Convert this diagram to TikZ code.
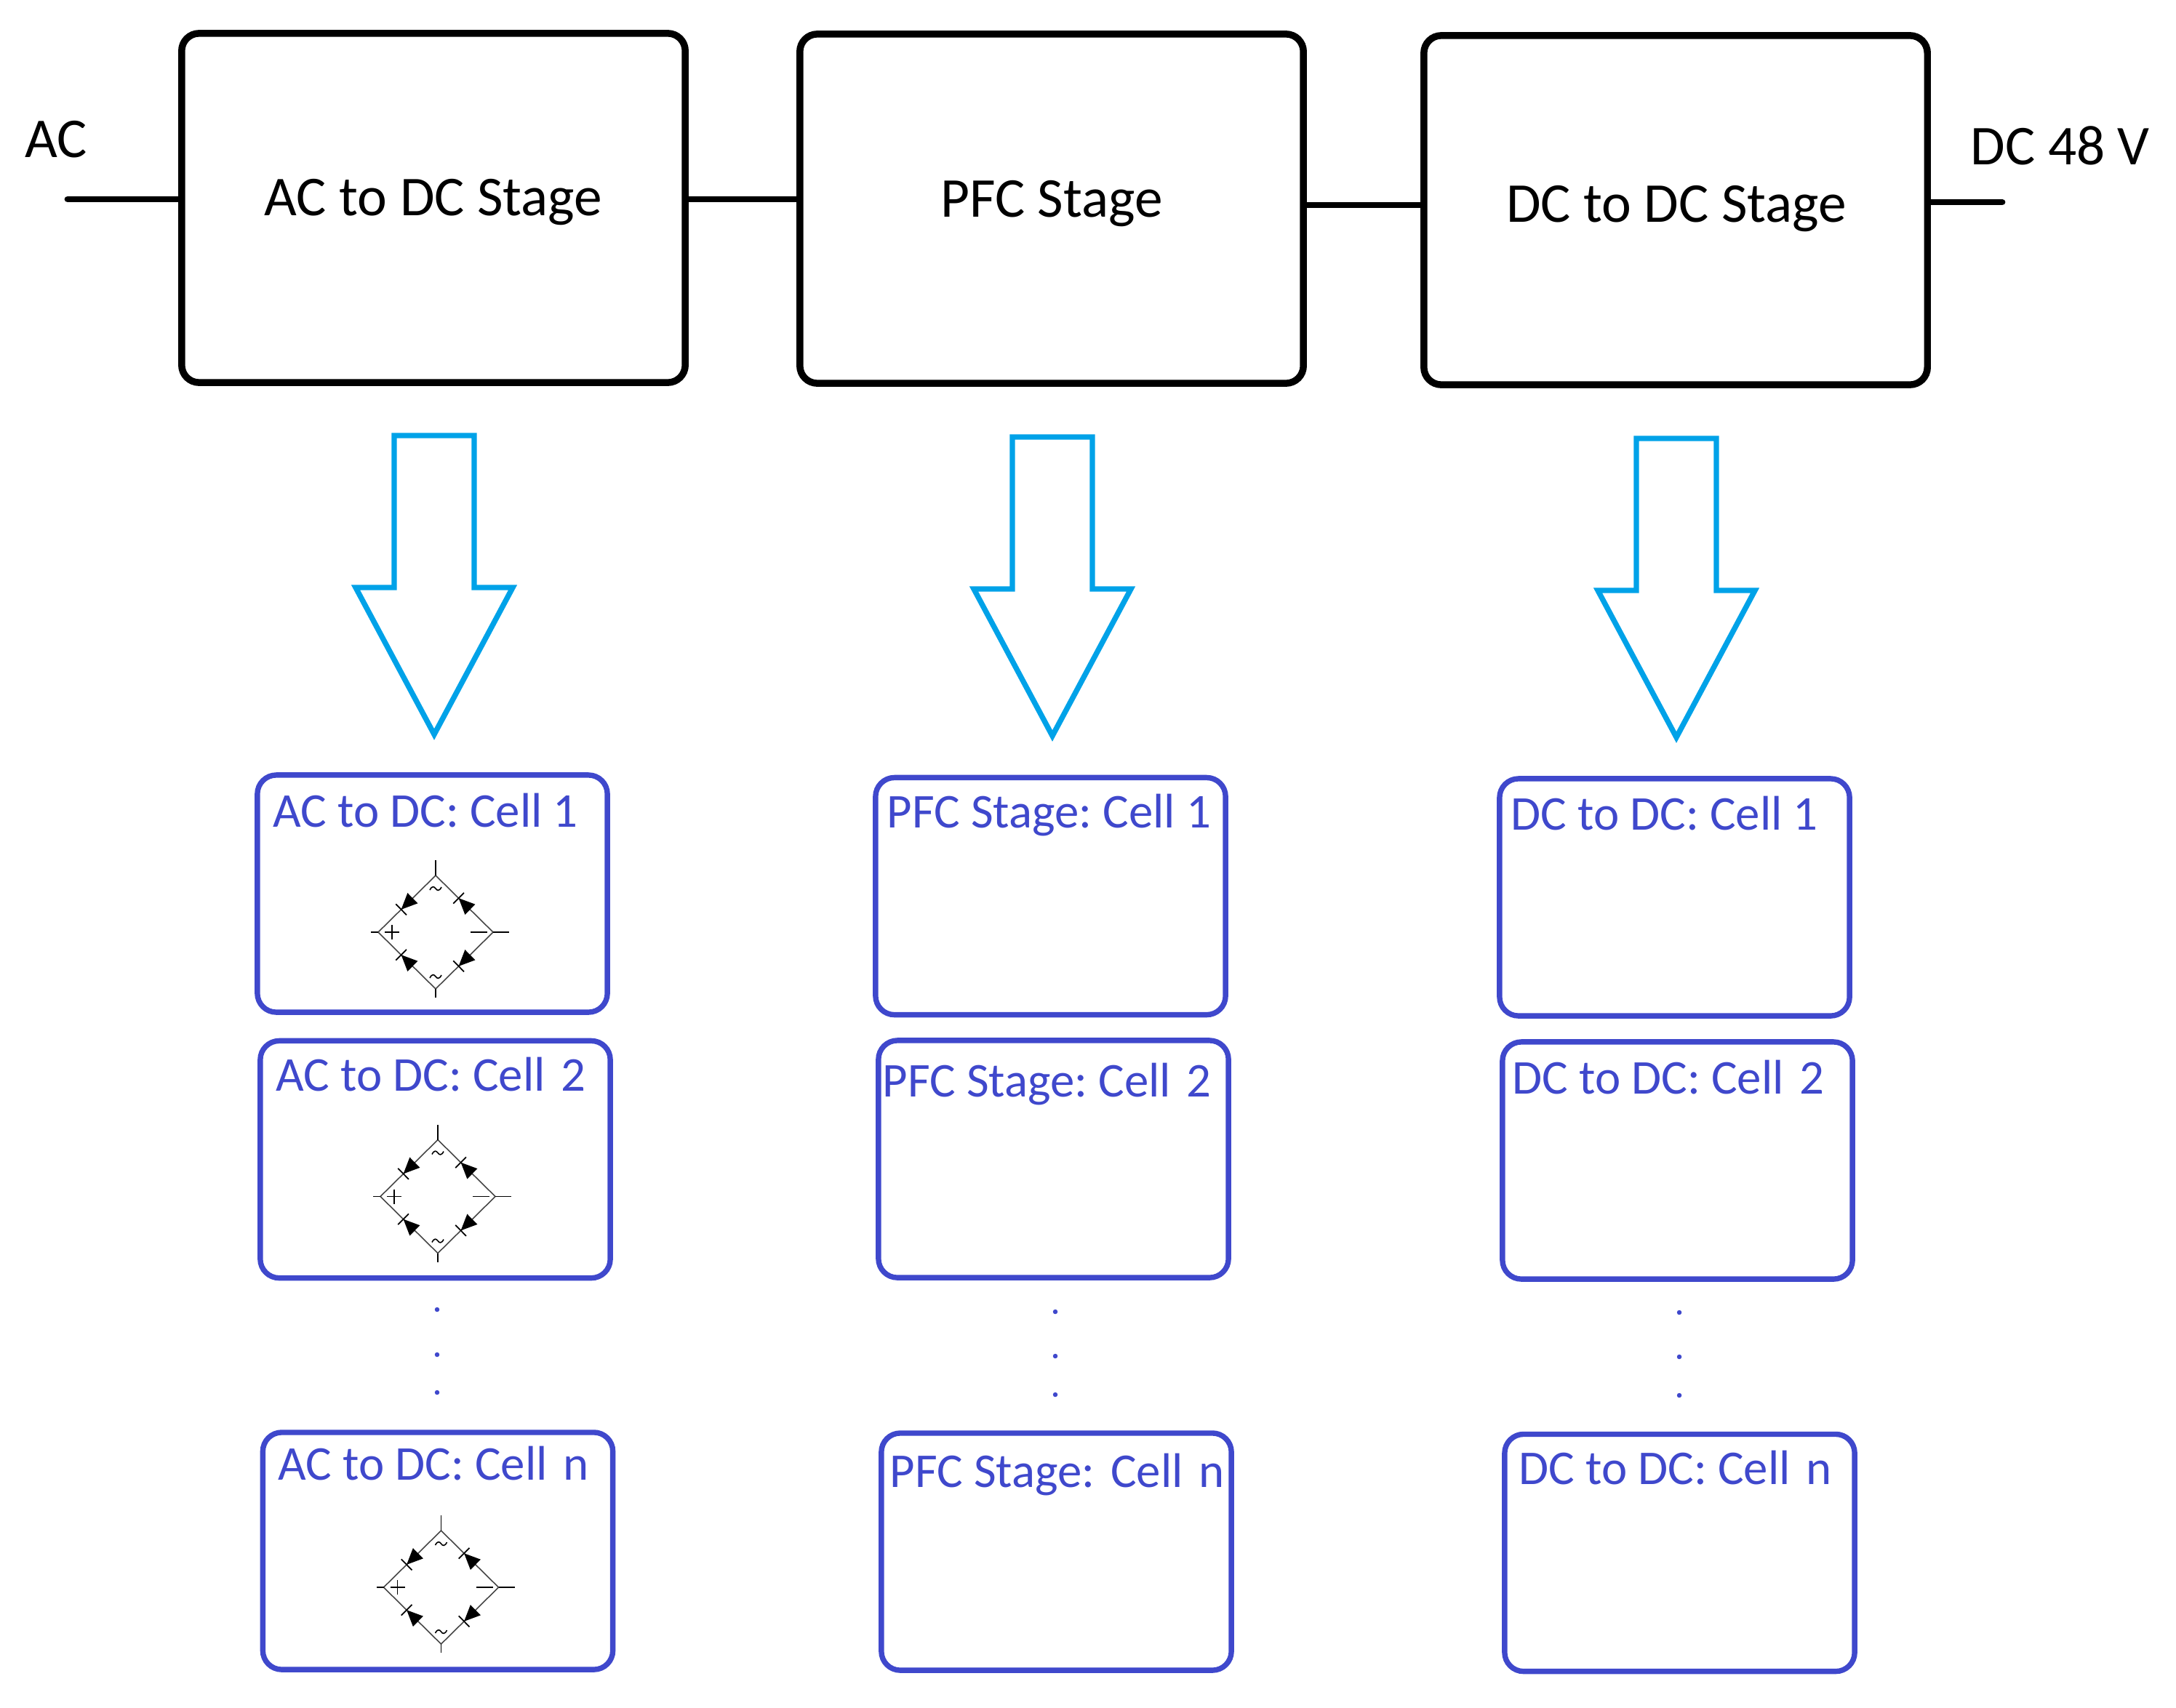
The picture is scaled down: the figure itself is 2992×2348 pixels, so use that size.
\documentclass[tikz,border=0pt]{standalone}
\usepackage{fontspec}
\setmainfont{Carlito}
\usetikzlibrary{calc}
\definecolor{cellblue}{RGB}{63,72,204}
\definecolor{arrowcyan}{RGB}{0,162,232}
\definecolor{bridgegray}{RGB}{70,70,70}
\newcommand{\xg}{\hspace{0.1em}}
\AtBeginDocument{\frenchspacing}

\tikzset{
  bridge/.pic={
    \coordinate (T) at (0,-78);
    \coordinate (B) at (0,78);
    \coordinate (L) at (-79,0);
    \coordinate (R) at (79,0);
    \draw[draw=bridgegray, line width=0.45pt] (T) -- (R) -- (B) -- (L) -- cycle;
    \draw[line width=0.5pt] (T) -- ++(0,-21) (B) -- ++(0,12) (L) -- ++(-10,0) (R) -- ++(22,0);
    \foreach \k/\a in {L/T, T/R, L/B, B/R} {
      \coordinate (dA) at ($(\k)!0.40!(\a)$);
      \coordinate (dB) at ($(\k)!0.60!(\a)$);
      \fill (dA) -- ($(dB)!0.1cm!90:(\a)$) -- ($(dB)!0.1cm!-90:(\a)$) -- cycle;
      \draw[line width=0.5pt] ($(dA)!0.105cm!90:(\a)$) -- ($(dA)!0.105cm!-90:(\a)$);
    }
    \draw[line width=0.5pt] (-70,0) -- (-50,0) (-60,-10) -- (-60,10);
    \draw[line width=0.5pt] (48,0) -- (71,0);
    \draw[line width=0.45pt, shift={(0,-60)}] (-8,2) .. controls (-5,-4) and (-2,-3) .. (0,0) .. controls (2,3) and (5,4) .. (8,-2);
    \draw[line width=0.45pt, shift={(0,61)}] (-8,2) .. controls (-5,-4) and (-2,-3) .. (0,0) .. controls (2,3) and (5,4) .. (8,-2);
  },
  downarrow/.pic={
    \draw[draw=arrowcyan, line width=2.1pt, line join=miter]
      (-55,0) -- (55,0) -- (55,209) -- (108,209) -- (0,411) -- (-108,209) -- (-55,209) -- cycle;
  }
}

\begin{document}
\begin{tikzpicture}[x=0.01cm, y=-0.01cm,
  stage/.style={draw=black, line width=2.7pt, rounded corners=0.24cm, minimum width=6.92cm, minimum height=4.8cm, inner sep=0pt},
  stagetext/.style={font=\fontsize{22pt}{26pt}\selectfont, inner sep=0pt, anchor=base},
  iolabel/.style={font=\fontsize{22pt}{26pt}\selectfont, inner sep=0pt, anchor=base west},
  conn/.style={line width=2.5pt, line cap=round},
  cell/.style={draw=cellblue, line width=2.1pt, rounded corners=0.26cm, minimum width=4.81cm, minimum height=3.26cm, inner sep=0pt},
  celltext/.style={text=cellblue, font=\fontsize{19pt}{23pt}\selectfont, inner sep=0pt, anchor=base west},
  vdot/.style={fill=cellblue, circle, inner sep=0pt, minimum size=0.065cm},
]
\useasboundingbox (0,0) rectangle (2992,2348);

% top stage boxes
\node[stage] (s1) at (596,286) {};
\node[stage] (s2) at (1446,287) {};
\node[stage] (s3) at (2304,289) {};
\node[stagetext] (t1) at (596,296) {AC to DC Stage};
\node[stagetext] (t2) at (1446,298) {PFC Stage};
\node[stagetext] (t3) at (2305,305) {DC to DC Stage};

% input / output labels
\node[iolabel] (ac) at (34,216) {AC};
\node[iolabel] (dc) at (2709,226) {DC 48 V};

% connectors
\coordinate (acin) at (93,274);
\coordinate (mid23) at (1875,282);
\coordinate (dcout) at (2753,278);
\draw[conn] (acin) -- (acin -| s1.west);
\draw[conn] (s1.east |- acin) -- (s2.west |- acin);
\draw[conn] (s2.east |- mid23) -- (s3.west |- mid23);
\draw[conn] (s3.east |- dcout) -- (dcout);

% hollow arrows
\pic at (597,599) {downarrow};
\pic at (1447,601) {downarrow};
\pic at (2305,603) {downarrow};

% cells, column 1
\node[cell] (c11) at (594.5,1229) {};
\node[cell] (c12) at (598.5,1594.5) {};
\node[cell] (c1n) at (602,2133) {};
\node[celltext] (l11) at (375,1137) {AC to DC: Cell 1};
\node[celltext] (l12) at (379,1500) {AC to DC: Cell \xg2};
\node[celltext] (l1n) at (382,2035) {AC to DC: Cell \xg n};
\pic at ($(c11.center)+(4.5,53)$) {bridge};
\pic at ($(c12.center)+(3.5,51)$) {bridge};
\pic at ($(c1n.center)+(4.5,50)$) {bridge};
\node[vdot] (d11) at (601,1801) {};
\node[vdot] (d12) at (601,1863) {};
\node[vdot] (d13) at (601,1915) {};

% cells, column 2
\node[cell] (c21) at (1444.5,1232.5) {};
\node[cell] (c22) at (1448.5,1594) {};
\node[cell] (c2n) at (1452.5,2134) {};
\node[celltext] (l21) at (1219,1138) {PFC Stage: Cell 1};
\node[celltext] (l22) at (1213,1508) {PFC Stage: Cell \xg2};
\node[celltext] (l2n) at (1223,2045) {PFC Stage: \xg Cell \xg n};
\node[vdot] (d21) at (1451,1804) {};
\node[vdot] (d22) at (1451,1865) {};
\node[vdot] (d23) at (1451,1918) {};

% cells, column 3
\node[cell] (c31) at (2302.5,1234) {};
\node[cell] (c32) at (2306.5,1596) {};
\node[cell] (c3n) at (2309.5,2135.5) {};
\node[celltext] (l31) at (2077,1141) {DC to DC: Cell 1};
\node[celltext] (l32) at (2079,1504) {DC to DC: Cell \xg2};
\node[celltext] (l3n) at (2088,2041) {DC to DC: Cell \xg n};
\node[vdot] (d31) at (2309,1805) {};
\node[vdot] (d32) at (2309,1866) {};
\node[vdot] (d33) at (2309,1919) {};
\end{tikzpicture}
\end{document}
